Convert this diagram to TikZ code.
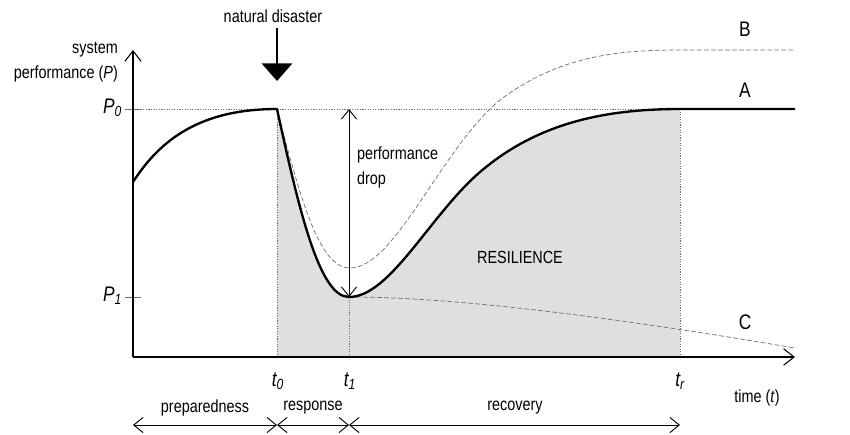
\documentclass[tikz,border=0pt]{standalone}
\usepackage{fontspec}
\setmainfont{Liberation Sans}[FakeStretch=0.82]
\usetikzlibrary{arrows.meta}

\definecolor{shadegray}{RGB}{221,223,224}
\definecolor{linegray}{RGB}{110,110,110}

\tikzset{
  lbl/.style={font=\fontsize{15}{21}\selectfont},
  biglbl/.style={font=\fontsize{18}{21}\selectfont},
  curveA/.style={line width=2pt, line join=round},
  curveBC/.style={linegray, line width=0.6pt, dash pattern=on 4pt off 2pt},
  guide/.style={linegray, line width=0.5pt, dash pattern=on 1pt off 1.2pt},
  barb/.tip={Straight Barb[length=8pt,width=13pt,line width=0.8pt]},
  span/.style={barb-barb, line width=0.8pt},
}

\begin{document}
\begin{tikzpicture}[x=0.03cm,y=-0.03cm]
\useasboundingbox (0,0) rectangle (850,434);
% points of the plot
\coordinate (org) at (133,357);
\coordinate (ytop) at (133,50);
\coordinate (xend) at (795,357);
\coordinate (p0) at (133,109);
\coordinate (p1) at (133,297);
\coordinate (a0) at (277,109);
\coordinate (a1) at (349,297);
\coordinate (ar) at (680,109);
\coordinate (aend) at (795,109);
\coordinate (bmin) at (350,268);
\coordinate (bend) at (795,50);
\coordinate (cend) at (795,348);
\coordinate (s0) at (133,425);
\coordinate (s1) at (277,425);
\coordinate (s2) at (349,425);
\coordinate (s3) at (680,425);

% resilience area
\fill[shadegray] (277,357) -- (a0) .. controls (300,215) and (320,297) .. (a1)
  .. controls (390,297) and (430,215) .. (480,172)
  .. controls (535,125) and (600,109) .. (ar) -- (680,357) -- cycle;

% guides
\draw[guide] (p0) -- (ar);
\draw[guide] (a0) -- (277,357);
\draw[guide] (a1) -- (349,357);
\draw[guide] (ar) -- (680,357);
\draw[linegray, line width=0.6pt] (125,109) -- (141,109);
\draw[linegray, line width=0.6pt] (125,297) -- (141,297);

% scenarios B and C
\draw[curveBC] (a0) .. controls (302,205) and (320,268) .. (bmin)
  .. controls (395,268) and (440,150) .. (500,100)
  .. controls (560,55) and (620,50) .. (680,50) -- (bend);
\draw[curveBC] (a1) .. controls (450,297) and (600,315) .. (cend);

% scenario A
\draw[curveA] (133,182) .. controls (160,140) and (200,109) .. (a0)
  .. controls (300,215) and (320,297) .. (a1)
  .. controls (390,297) and (430,215) .. (480,172)
  .. controls (535,125) and (600,109) .. (ar) -- (aend);

% axes
\draw[line width=1.7pt, -{Straight Barb[length=9pt,width=14pt,line width=0.9pt]}] (org) -- (ytop);
\draw[line width=1.7pt, -{Straight Barb[length=9pt,width=14pt,line width=0.9pt]}] (org) -- (xend);

% performance drop
\draw[barb-barb, line width=0.7pt] (349,109) -- (a1);
\node[lbl, align=left, anchor=north west] (drop) at (353,143) {performance\\drop};

% disaster
\node[lbl, anchor=base] (nd) at (273,22) {natural disaster};
\coordinate (ndtip) at (277,81);
\draw[line width=1.3pt, -{Triangle[length=15pt,width=26pt]}] (277,28) -- (ndtip);

% labels
\node[lbl, align=right, anchor=east] (yl) at (122,62) {system\\performance (\textit{P})};
\node[biglbl, anchor=east] (lp0) at (126,108) {\textit{P\textsubscript{0}}};
\node[biglbl, anchor=east] (lp1) at (126,296) {\textit{P\textsubscript{1}}};
\node[biglbl] (lt0) at (278,381) {\textit{t\textsubscript{0}}};
\node[biglbl] (lt1) at (350,381) {\textit{t\textsubscript{1}}};
\node[biglbl] (ltr) at (680,381) {\textit{t\textsubscript{r}}};
\node[lbl] (xl) at (757,398) {time (\textit{t})};
\node[biglbl] (la) at (745,90) {A};
\node[biglbl] (lb) at (745,29) {B};
\node[biglbl] (lc) at (745,322) {C};
\node[lbl] (res) at (520,257) {RESILIENCE};

% phases
\draw[span] (s0) -- (s1);
\draw[span] (s1) -- (s2);
\draw[span] (s2) -- (s3);
\node[lbl] (prep) at (205,408) {preparedness};
\node[lbl] (resp) at (313,408) {response};
\node[lbl] (reco) at (515,408) {recovery};
\end{tikzpicture}
\end{document}
